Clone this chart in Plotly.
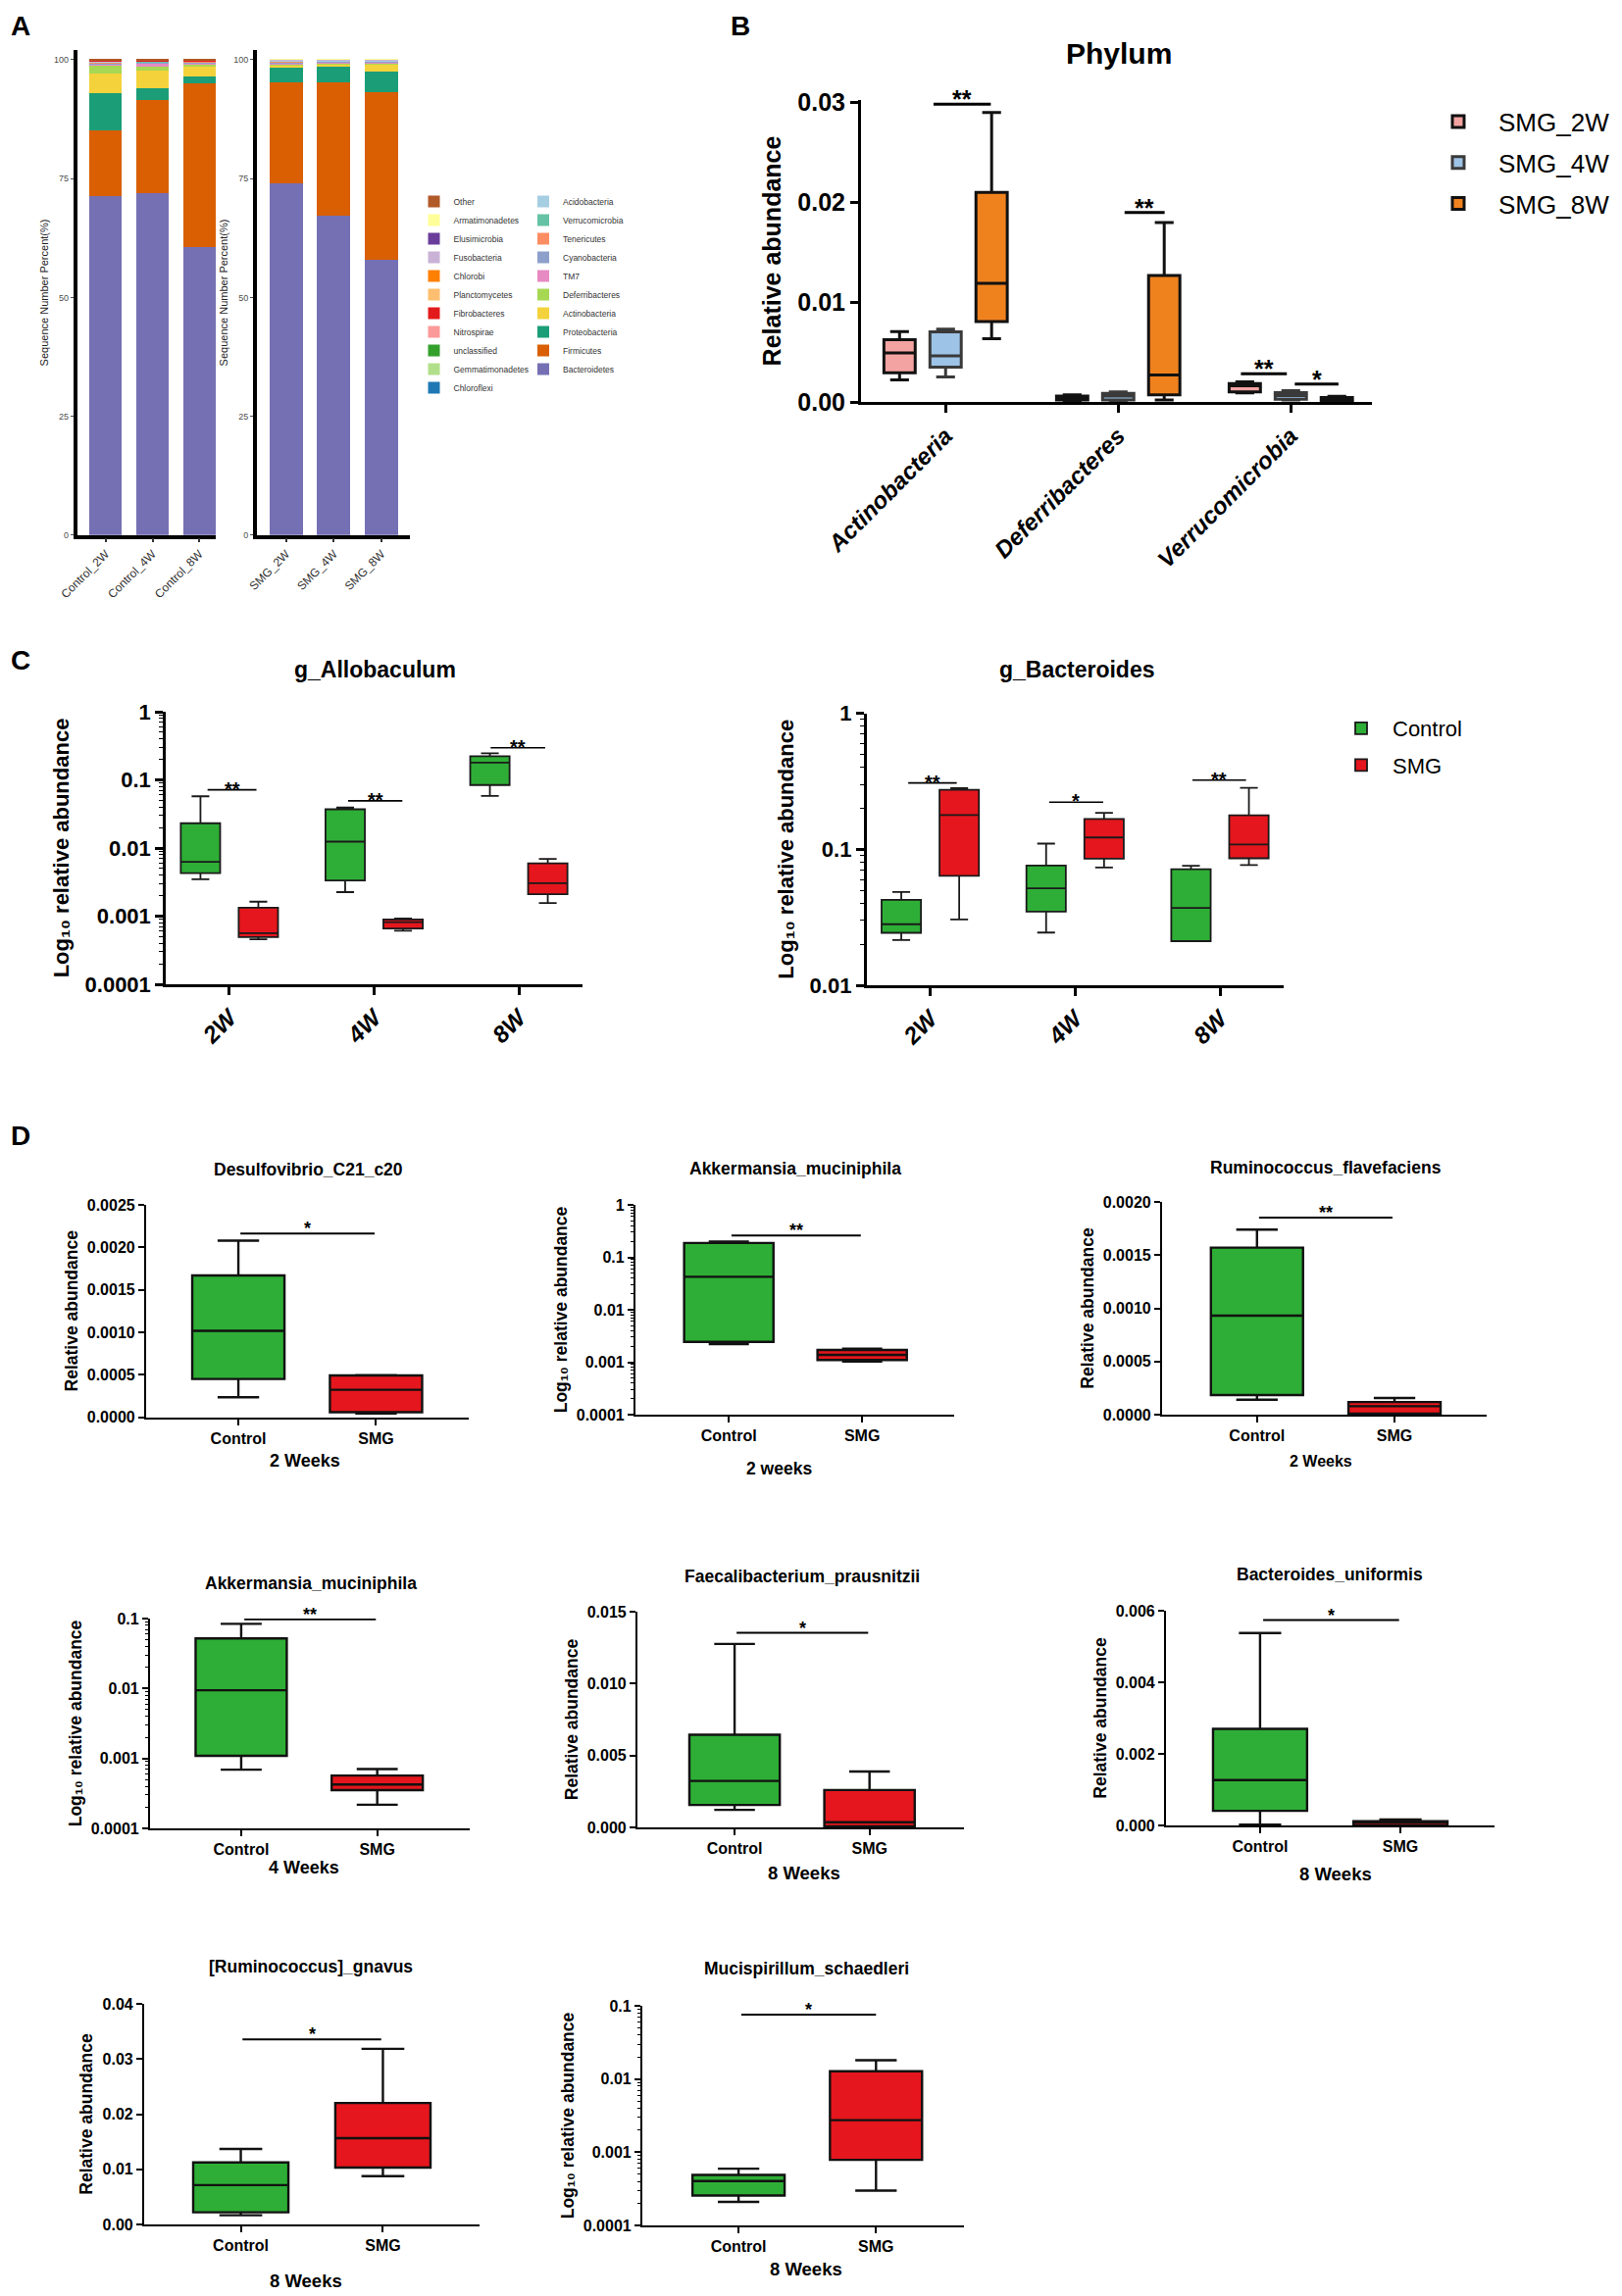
import math
import plotly.graph_objects as go

W, H = 1654, 2342
FONT = "Liberation Sans, Arial, Helvetica, sans-serif"
GREEN = "#2EAE36"
RED = "#E5161D"
LOG_TITLE = "Log\u2081\u2080 relative abundance"

# ======================= DATA =======================
# ---- Panel A: stacked phylum composition (percent) ----
a_control_samples = ["Control_2W", "Control_4W", "Control_8W"]
a_smg_samples = ["SMG_2W", "SMG_4W", "SMG_8W"]
a_phyla = ["Bacteroidetes", "Firmicutes", "Proteobacteria", "Actinobacteria",
           "Deferribacteres", "TM7", "Cyanobacteria", "Tenericutes",
           "Verrucomicrobia", "Acidobacteria", "Chloroflexi", "Gemmatimonadetes",
           "unclassified", "Nitrospirae", "Fibrobacteres", "Planctomycetes",
           "Chlorobi", "Fusobacteria", "Elusimicrobia", "Armatimonadetes", "Other"]
a_colors = ["#7570B3", "#D95F02", "#1B9E77", "#F4D23C",
            "#A6D854", "#E78AC3", "#8DA0CB", "#FC8D62",
            "#66C2A5", "#A6CEE3", "#1F78B4", "#B2DF8A",
            "#33A02C", "#FB9A99", "#E31A1C", "#FDBF6F",
            "#FF7F00", "#CAB2D6", "#6A3D9A", "#FFFF99", "#B15928"]
a_pct_control_2w = [71.4, 13.8, 7.7, 4.2, 1.6, 0.4, 0.2, 0.1, 0.1, 0.04, 0.02, 0.03, 0.1, 0.02, 0.03, 0.04, 0.03, 0.03, 0.02, 0.04, 0.1]
a_pct_control_4w = [72.0, 19.6, 2.4, 3.8, 0.8, 0.6, 0.2, 0.1, 0.1, 0.03, 0.02, 0.04, 0.0, 0.03, 0.02, 0.03, 0.04, 0.02, 0.03, 0.04, 0.1]
a_pct_control_8w = [60.6, 34.4, 1.5, 2.1, 0.5, 0.2, 0.2, 0.1, 0.0, 0.02, 0.03, 0.04, 0.0, 0.03, 0.02, 0.04, 0.03, 0.04, 0.02, 0.03, 0.1]
a_pct_smg_2w = [74.1, 21.1, 3.2, 0.5, 0.2, 0.2, 0.2, 0.1, 0.1, 0.03, 0.04, 0.02, 0.0, 0.04, 0.03, 0.02, 0.03, 0.04, 0.03, 0.02, 0.0]
a_pct_smg_4w = [67.1, 28.2, 3.3, 0.4, 0.2, 0.2, 0.2, 0.1, 0.0, 0.04, 0.03, 0.03, 0.0, 0.02, 0.04, 0.03, 0.02, 0.03, 0.04, 0.02, 0.0]
a_pct_smg_8w = [58.0, 35.1, 4.5, 1.4, 0.3, 0.1, 0.2, 0.1, 0.0, 0.03, 0.02, 0.03, 0.0, 0.04, 0.03, 0.04, 0.02, 0.03, 0.02, 0.04, 0.0]
a_legend_col2 = ["Acidobacteria", "Verrucomicrobia", "Tenericutes", "Cyanobacteria", "TM7",
                 "Deferribacteres", "Actinobacteria", "Proteobacteria", "Firmicutes", "Bacteroidetes"]

# ---- Panel B: phylum relative abundance (lower whisker, Q1, median, Q3, upper whisker) ----
b_phyla = ["Actinobacteria", "Deferribacteres", "Verrucomicrobia"]
b_groups = ["SMG_2W", "SMG_4W", "SMG_8W"]
b_fill = ["#F4A3A3", "#9DC3E6", "#F0821E"]
b_line = ["#111111", "#3A3A3A", "#111111"]
b_smg_2w = [(0.00221, 0.00292, 0.00491, 0.00622, 0.00704),
            (0.00010, 0.00020, 0.00040, 0.00060, 0.00070),
            (0.00090, 0.00101, 0.00161, 0.00184, 0.00202)]
b_smg_4w = [(0.00251, 0.00348, 0.00461, 0.00700, 0.00727),
            (0.00010, 0.00019, 0.00060, 0.00086, 0.00100),
            (0.00020, 0.00026, 0.00064, 0.00094, 0.00112)]
b_smg_8w = [(0.00633, 0.00805, 0.01187, 0.02097, 0.02895),
            (0.00020, 0.00071, 0.00270, 0.01266, 0.01794),
            (0.00010, 0.00011, 0.00030, 0.00045, 0.00056)]
b_sig = [(-0.07, 0.262, 0.02978, "**"), (1.037, 1.269, 0.01895, "**"),
         (1.711, 1.977, 0.00281, "**"), (2.023, 2.276, 0.00180, "*")]

# ---- Panel C: genus level, log scale ----
c_weeks = ["2W", "4W", "8W"]
c_allo_control = [(0.00347, 0.00428, 0.00628, 0.0231, 0.0574),
                  (0.00225, 0.00333, 0.0124, 0.0370, 0.0395),
                  (0.0580, 0.0841, 0.179, 0.223, 0.246)]
c_allo_smg = [(0.000458, 0.000494, 0.000564, 0.00133, 0.00163),
              (0.000609, 0.000658, 0.000819, 0.000894, 0.000924),
              (0.00156, 0.00210, 0.00305, 0.00595, 0.00693)]
c_allo_sig = [(-0.151, 0.187, 0.0714, "**"), (0.82, 1.195, 0.0492, "**"), (1.805, 2.182, 0.296, "**")]
c_bact_control = [(0.0215, 0.0243, 0.0281, 0.0424, 0.0485),
                  (0.0244, 0.0348, 0.0516, 0.0760, 0.110),
                  (0.0211, 0.0211, 0.0370, 0.0712, 0.0756)]
c_bact_smg = [(0.0305, 0.0638, 0.1786, 0.2735, 0.281),
              (0.0733, 0.0853, 0.122, 0.167, 0.185),
              (0.0765, 0.0858, 0.1086, 0.1774, 0.283)]
c_bact_sig = [(-0.152, 0.183, 0.307, "**"), (0.821, 1.194, 0.222, "*"), (1.81, 2.18, 0.322, "**")]

# ---- Panel D: species level, Control vs SMG ----
d_groups = ["Control", "SMG"]
d1_control = (0.000234, 0.000449, 0.001016, 0.001668, 0.002078)
d1_smg = (0.0000422, 0.0000575, 0.000322, 0.000490, 0.000495)
d1_sig = (0.015, 0.99, 0.002163, "*")
d2_control = (0.00222, 0.00245, 0.0426, 0.188, 0.199)
d2_smg = (0.00103, 0.00110, 0.00138, 0.00171, 0.00182)
d2_sig = (0.02, 0.99, 0.261, "**")
d3_control = (0.000141, 0.000184, 0.000931, 0.00157, 0.00174)
d3_smg = (0.000003, 0.00001, 0.0000796, 0.000119, 0.000156)
d3_sig = (0.015, 0.985, 0.001853, "**")
d4_control = (0.00069, 0.00109, 0.00944, 0.0521, 0.0841)
d4_smg = (0.000218, 0.000352, 0.000423, 0.000570, 0.000705)
d4_sig = (0.023, 0.99, 0.0977, "**")
d5_control = (0.00122, 0.00156, 0.00323, 0.00644, 0.01276)
d5_smg = (0.00005, 0.00007, 0.00036, 0.00260, 0.00389)
d5_sig = (0.015, 0.99, 0.01353, "*")
d6_control = (0.00002, 0.000407, 0.001267, 0.002697, 0.005376)
d6_smg = (0.00001, 0.00001, 0.00009, 0.000118, 0.000163)
d6_sig = (0.022, 0.99, 0.005738, "*")
d7_control = (0.00167, 0.00220, 0.00714, 0.01125, 0.01369)
d7_smg = (0.00875, 0.01030, 0.01565, 0.02202, 0.03185)
d7_sig = (0.012, 0.988, 0.03357, "*")
d8_control = (0.000210, 0.000256, 0.000403, 0.000490, 0.000596)
d8_smg = (0.000299, 0.000787, 0.00274, 0.01274, 0.0181)
d8_sig = (0.02, 1.0, 0.0757, "*")

# ======================= HELPERS =======================
def X(p):
    return p / W


def Y(p):
    return 1 - p / H


fig = go.Figure()
layout = dict(template="none", width=W, height=H,
              margin=dict(l=0, r=0, t=0, b=0, pad=0, autoexpand=False),
              paper_bgcolor="white", plot_bgcolor="white",
              barmode="stack", boxmode="group", boxgap=0.2, boxgroupgap=0.32,
              font=dict(family=FONT, color="black"), showlegend=True)
annotations = []
shapes = []


def fnt(size, bold=True, color="black", italic=False):
    f = dict(family=FONT, size=size, color=color)
    if bold:
        f["weight"] = "bold"
    if italic:
        f["style"] = "italic"
    return f


def base_axis(lw, tlen, tw, tsize, bold=True, color="black", tickcolor="black", italic=False):
    return dict(showline=True, linecolor="black", linewidth=lw, ticks="outside",
                ticklen=tlen, tickwidth=tw, tickcolor=tickcolor, showgrid=False,
                zeroline=False, automargin=False, tickfont=fnt(tsize, bold, color, italic),
                fixedrange=True)


def set_axes(n, xdom, ytop, ybot, xa, ya):
    sfx = "" if n == 1 else str(n)
    xa.update(domain=[X(xdom[0]), X(xdom[1])], anchor="y" + sfx)
    ya.update(domain=[Y(ybot), Y(ytop)], anchor="x" + sfx)
    layout["xaxis" + sfx] = xa
    layout["yaxis" + sfx] = ya
    return "x" + sfx, "y" + sfx


def text(x, y, s, size, bold=True, xanchor="center", yanchor="middle", color="black"):
    annotations.append(dict(x=X(x), y=Y(y), xref="paper", yref="paper", text=s,
                            showarrow=False, xanchor=xanchor, yanchor=yanchor,
                            font=fnt(size, bold, color)))


def sig(xref, yref, item, log, lw, fsize, yshift):
    x0, x1, yv, s = item
    shapes.append(dict(type="line", xref=xref, yref=yref, x0=x0, x1=x1, y0=yv, y1=yv,
                       line=dict(color="black", width=lw)))
    annotations.append(dict(xref=xref, yref=yref, x=(x0 + x1) / 2,
                            y=math.log10(yv) if log else yv, text=s, showarrow=False,
                            xanchor="center", yanchor="bottom", yshift=yshift,
                            font=fnt(fsize, True)))


def add_box(name, cats, stats, xa, ya, fill, lcolor, lw, whisker, width=None,
            offsetgroup=None, legend=None, showlegend=False, legendgroup=None):
    lo, q1, med, q3, hi = zip(*stats)
    kw = dict(x=list(cats), lowerfence=list(lo), q1=list(q1), median=list(med),
              q3=list(q3), upperfence=list(hi), name=name, xaxis=xa, yaxis=ya,
              fillcolor=fill, line=dict(color=lcolor, width=lw), whiskerwidth=whisker,
              boxpoints=False, showlegend=showlegend, hoverinfo="skip")
    if width is not None:
        kw["width"] = width
    if offsetgroup is not None:
        kw["offsetgroup"] = offsetgroup
    if legend is not None:
        kw["legend"] = legend
    if legendgroup is not None:
        kw["legendgroup"] = legendgroup
    fig.add_trace(go.Box(**kw))


def log_minor(lo_exp, hi_exp):
    return [k * 10.0 ** e for e in range(lo_exp, hi_exp) for k in range(2, 10)]


def log_yaxis(lo_exp, hi_exp, lw, tlen, tw, tsize, title, tsz, standoff):
    vals = [10.0 ** e for e in range(lo_exp, hi_exp + 1)]
    labels = [("%.4f" % v).rstrip("0").rstrip(".") if v < 1 else "1" for v in vals]
    ya = base_axis(lw, tlen, tw, tsize)
    ya.update(type="log", range=[lo_exp, hi_exp], tickvals=vals, ticktext=labels,
              minor=dict(tickvals=log_minor(lo_exp, hi_exp), ticks="outside",
                         ticklen=max(3, tlen // 2), tickwidth=1.2, tickcolor="black"),
              title=dict(text=title, font=fnt(tsz, True), standoff=standoff))
    return ya


# ======================= PANEL A =======================
a_sets = [
    (1, a_control_samples, (78.6, 220.0), [-0.61, 2.35],
     [a_pct_control_2w, a_pct_control_4w, a_pct_control_8w]),
    (2, a_smg_samples, (261.8, 417.6), [-0.62, 2.59],
     [a_pct_smg_2w, a_pct_smg_4w, a_pct_smg_8w]),
]
for n, samples, xdom, xr, cols in a_sets:
    xa = base_axis(3.5, 4, 1.5, 12, bold=False, color="#333333", tickcolor="#333333")
    xa.update(type="category", categoryorder="array", categoryarray=samples, range=xr,
              tickangle=-45)
    ya = base_axis(3.5, 3, 1, 9, bold=False, color="#4D4D4D", tickcolor="#4D4D4D")
    ya.update(range=[0, 102], tickvals=[0, 25, 50, 75, 100],
              title=dict(text="Sequence Number Percent(%)",
                         font=fnt(11, False, "#222222"), standoff=4))
    xr_id, yr_id = set_axes(n, xdom, 51.3, 545.7, xa, ya)
    for i, ph in enumerate(a_phyla):
        fig.add_trace(go.Bar(
            x=samples, y=[c[i] for c in cols], name=ph, marker_color=a_colors[i],
            marker_line_width=0, width=0.70, xaxis=xr_id, yaxis=yr_id,
            legend="legend2" if ph in a_legend_col2 else "legend",
            showlegend=(n == 1), hoverinfo="skip"))

text(20.5, 27, "A", 28)

# ======================= PANEL B =======================
xa = base_axis(3, 8, 3, 24, italic=True)
xa.update(type="category", categoryorder="array", categoryarray=b_phyla,
          range=[-0.49, 2.47], tickangle=-45)
ya = base_axis(3, 8, 3, 25)
ya.update(range=[0, 0.0302], tickvals=[0, 0.01, 0.02, 0.03], tickformat=".2f",
          title=dict(text="Relative abundance", font=fnt(25, True), standoff=10))
bx, by = set_axes(3, (878, 1399), 102, 410, xa, ya)
for gname, stats, fc, lc in zip(b_groups, [b_smg_2w, b_smg_4w, b_smg_8w], b_fill, b_line):
    add_box(gname, b_phyla, stats, bx, by, fc, lc, 3, 0.6, offsetgroup=gname,
            legend="legend3", showlegend=True, legendgroup="b_" + gname)
for item in b_sig:
    sig(bx, by, item, False, 3, 25, -11)
text(754.5, 27, "B", 28)
text(1141, 54, "Phylum", 30)

# ======================= PANEL C =======================
c_sets = [
    (4, (169, 594), 726, 1004, -4, "g_Allobaculum", 382, c_allo_control, c_allo_smg, c_allo_sig, True),
    (5, (883.6, 1309), 727.5, 1005, -2, "g_Bacteroides", 1098, c_bact_control, c_bact_smg, c_bact_sig, False),
]
for n, xdom, ytop, ybot, lo_exp, title, tx, ctrl, smg, sigs, show in c_sets:
    xa = base_axis(2.5, 8, 2.5, 24, italic=True)
    xa.update(type="category", categoryorder="array", categoryarray=c_weeks,
              range=[-0.44, 2.44], tickangle=-45)
    ya = log_yaxis(lo_exp, 0, 2.5, 8, 2.5, 22, LOG_TITLE, 22, 10)
    cx, cy = set_axes(n, xdom, ytop, ybot, xa, ya)
    add_box("Control", c_weeks, ctrl, cx, cy, GREEN, "#1A1A1A", 1.8, 0.45,
            offsetgroup="Control", legend="legend4", showlegend=show, legendgroup="c_ctrl")
    add_box("SMG", c_weeks, smg, cx, cy, RED, "#1A1A1A", 1.8, 0.45,
            offsetgroup="SMG", legend="legend4", showlegend=show, legendgroup="c_smg")
    for item in sigs:
        sig(cx, cy, item, True, 1.6, 20, -12)
    text(tx, 683, title, 23)
text(21, 673, "C", 28)

# ======================= PANEL D =======================
d_specs = [
    dict(n=6, title="Desulfovibrio_C21_c20", ctrl=d1_control, smg=d1_smg, sig=d1_sig, log=None,
         lin=(0.0025, 0.0005, ".4f"), xdom=(149, 477.5), yt=1229, yb=1445.5, xr=[-0.67, 1.67],
         tpos=(314, 1192.5), period="2 Weeks", ppos=(311, 1490), psz=18),
    dict(n=7, title="Akkermansia_muciniphila", ctrl=d2_control, smg=d2_smg, sig=d2_sig, log=(-4, 0),
         lin=None, xdom=(648, 973), yt=1229, yb=1443, xr=[-0.70, 1.69],
         tpos=(811, 1192), period="2 weeks", ppos=(794, 1498), psz=17.5),
    dict(n=8, title="Ruminococcus_flavefaciens", ctrl=d3_control, smg=d3_smg, sig=d3_sig, log=None,
         lin=(0.0020, 0.0005, ".4f"), xdom=(1185, 1516), yt=1226, yb=1443, xr=[-0.69, 1.67],
         tpos=(1352, 1191), period="2 Weeks", ppos=(1347, 1490), psz=16),
    dict(n=9, title="Akkermansia_muciniphila", ctrl=d4_control, smg=d4_smg, sig=d4_sig, log=(-4, -1),
         lin=None, xdom=(153, 479), yt=1651, yb=1865, xr=[-0.67, 1.68],
         tpos=(316.5, 1615), period="4 Weeks", ppos=(310, 1905), psz=18),
    dict(n=10, title="Faecalibacterium_prausnitzii", ctrl=d5_control, smg=d5_smg, sig=d5_sig, log=None,
         lin=(0.015, 0.005, ".3f"), xdom=(650, 983), yt=1644, yb=1864, xr=[-0.72, 1.70],
         tpos=(818, 1608), period="8 Weeks", ppos=(820, 1910), psz=18.5),
    dict(n=11, title="Bacteroides_uniformis", ctrl=d6_control, smg=d6_smg, sig=d6_sig, log=None,
         lin=(0.006, 0.002, ".3f"), xdom=(1189, 1524), yt=1643, yb=1862, xr=[-0.67, 1.67],
         tpos=(1356, 1606), period="8 Weeks", ppos=(1362, 1911.5), psz=18.5),
    dict(n=12, title="[Ruminococcus]_gnavus", ctrl=d7_control, smg=d7_smg, sig=d7_sig, log=None,
         lin=(0.04, 0.01, ".2f"), xdom=(147, 489), yt=2044, yb=2269, xr=[-0.68, 1.68],
         tpos=(317, 2005.5), period="8 Weeks", ppos=(311.5, 2326), psz=18.5),
    dict(n=13, title="Mucispirillum_schaedleri", ctrl=d8_control, smg=d8_smg, sig=d8_sig, log=(-4, -1),
         lin=None, xdom=(655, 983), yt=2046, yb=2270, xr=[-0.70, 1.64],
         tpos=(822, 2008), period="8 Weeks", ppos=(822, 2314), psz=18.5),
]
for s in d_specs:
    xa = base_axis(2.2, 6, 2, 16)
    xa.update(type="category", categoryorder="array", categoryarray=d_groups, range=s["xr"])
    if s["log"]:
        ya = log_yaxis(s["log"][0], s["log"][1], 2.2, 6, 2, 16, LOG_TITLE, 17.5, 5)
    else:
        top, dt, fmt = s["lin"]
        ya = base_axis(2.2, 6, 2, 16)
        ya.update(range=[0, top], tick0=0, dtick=dt, tickformat=fmt,
                  title=dict(text="Relative abundance", font=fnt(17.5, True), standoff=5))
    dx, dy = set_axes(s["n"], s["xdom"], s["yt"], s["yb"], xa, ya)
    add_box("Control", ["Control"], [s["ctrl"]], dx, dy, GREEN, "#111111", 2.4, 0.45, width=0.67)
    add_box("SMG", ["SMG"], [s["smg"]], dx, dy, RED, "#111111", 2.4, 0.45, width=0.67)
    sig(dx, dy, s["sig"], bool(s["log"]), 2, 18, -7)
    text(s["tpos"][0], s["tpos"][1], s["title"], 17.5)
    text(s["ppos"][0], s["ppos"][1], s["period"], s["psz"])
text(21, 1158, "D", 28)

# ======================= LEGENDS =======================
layout["legend"] = dict(x=X(422.5), y=Y(191), xanchor="left", yanchor="top",
                        font=fnt(8.5, False, "#333333"), traceorder="reversed",
                        itemwidth=30, bgcolor="rgba(0,0,0,0)", borderwidth=0)
layout["legend2"] = dict(x=X(534), y=Y(191), xanchor="left", yanchor="top",
                         font=fnt(8.5, False, "#333333"), traceorder="reversed",
                         itemwidth=30, bgcolor="rgba(0,0,0,0)", borderwidth=0)
layout["legend3"] = dict(x=X(1446), y=Y(100.6), xanchor="left", yanchor="top",
                         font=fnt(26, False), traceorder="grouped", tracegroupgap=5,
                         itemwidth=72, bgcolor="rgba(0,0,0,0)", borderwidth=0)
layout["legend4"] = dict(x=X(1356), y=Y(722), xanchor="left", yanchor="top",
                         font=fnt(22, False), traceorder="grouped", tracegroupgap=6,
                         itemwidth=54, bgcolor="rgba(0,0,0,0)", borderwidth=0)

layout["annotations"] = annotations
layout["shapes"] = shapes
fig.update_layout(**layout)

fig.write_html("out.html", config={"displayModeBar": False},
               post_script="document.body.style.margin='0px';document.body.style.overflow='hidden';")
